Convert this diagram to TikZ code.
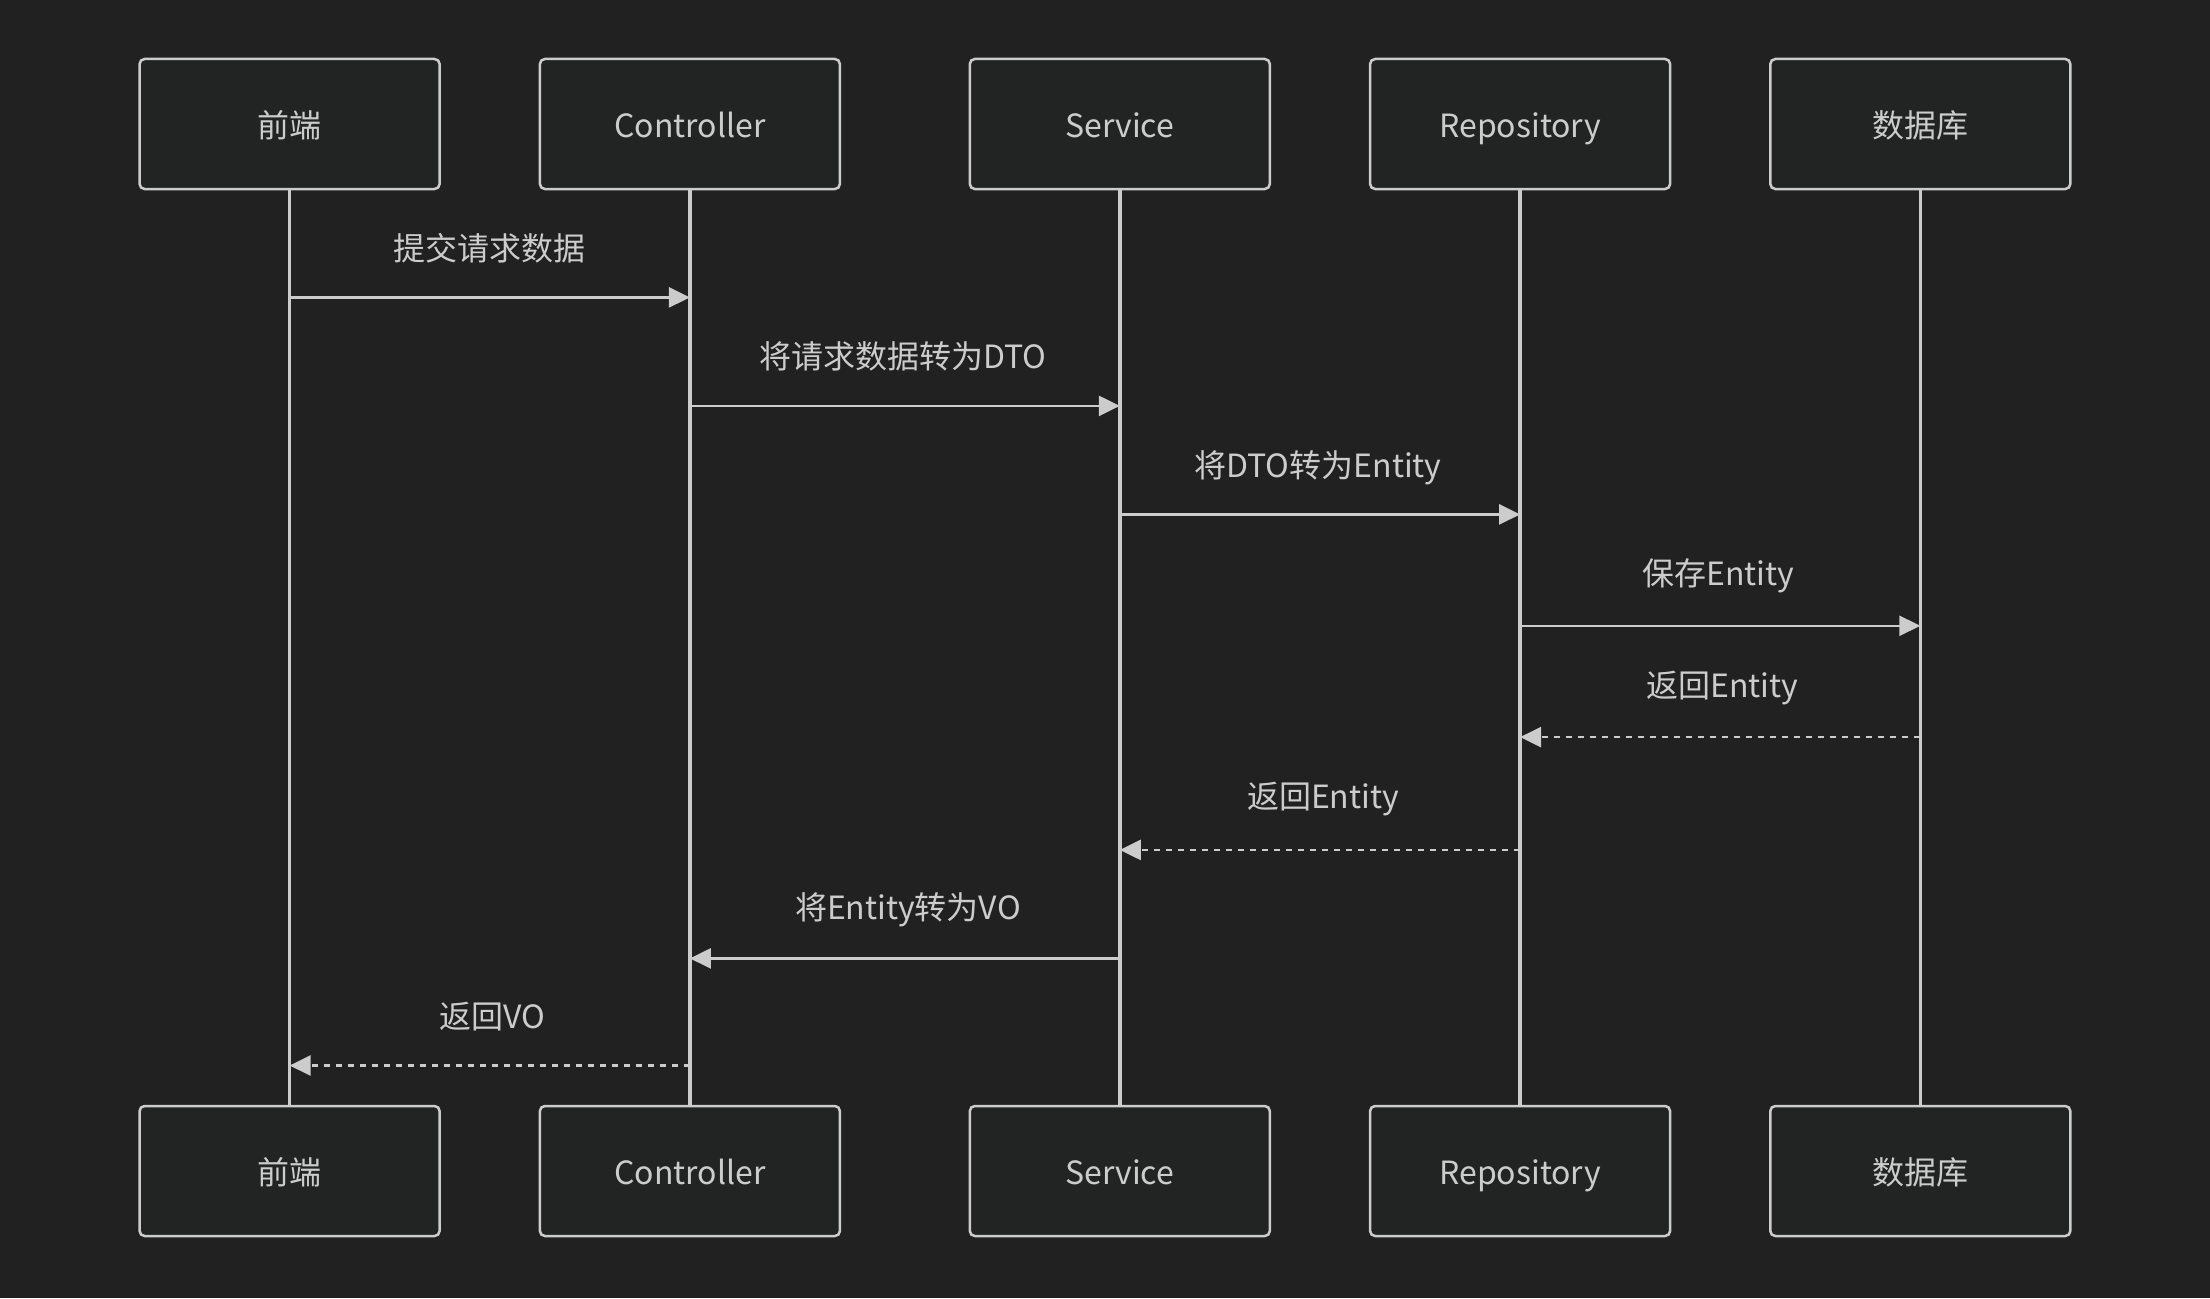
\documentclass[tikz,border=0pt]{standalone}
\usepackage{fontspec}
\setmainfont{Noto Sans CJK SC}
\usetikzlibrary{arrows.meta}
\definecolor{bg}{HTML}{212121}
\definecolor{boxfill}{HTML}{222323}
\definecolor{fg}{HTML}{CCCCCC}
\tikzset{
  actor/.style={draw=fg, line width=2.5pt, fill=boxfill, rounded corners=5pt,
    minimum width=300pt, minimum height=130pt, inner sep=0pt, text=fg,
    text height=30pt, text depth=3pt,
    font=\fontsize{32}{40}\selectfont},
  lifeline/.style={draw=fg, line width=3.5pt},
  msg/.style={draw=fg, line width=2.6pt, -{Triangle[length=21pt,width=20pt]}},
  reply/.style={msg, dash pattern=on 6pt off 6pt},
  lbl/.style={text=fg, inner sep=0pt, text height=23pt, text depth=7pt,
    font=\fontsize{32}{40}\selectfont},
}
\begin{document}
\begin{tikzpicture}[x=1pt,y=-1pt]
\fill[bg] (0,0) rectangle (2210,1298);
\useasboundingbox (0,0) rectangle (2210,1298);
% top actors
\node[actor] (t1) at (289.6,124) {前端};
\node[actor] (t2) at (689.9,124) {Controller};
\node[actor] (t3) at (1119.8,124) {Service};
\node[actor] (t4) at (1520.1,124) {Repository};
\node[actor] (t5) at (1920.3,124) {数据库};
% bottom actors
\node[actor] (b1) at (289.6,1171) {前端};
\node[actor] (b2) at (689.9,1171) {Controller};
\node[actor] (b3) at (1119.8,1171) {Service};
\node[actor] (b4) at (1520.1,1171) {Repository};
\node[actor] (b5) at (1920.3,1171) {数据库};
% lifelines
\foreach \i in {1,...,5} {
  \draw[lifeline] (t\i.south) -- (b\i.north);
}
% message levels
\coordinate (y1) at (0,297.4);
\coordinate (y2) at (0,405.9);
\coordinate (y3) at (0,514.4);
\coordinate (y4) at (0,625.8);
\coordinate (y5) at (0,737.1);
\coordinate (y6) at (0,849.9);
\coordinate (y7) at (0,958.4);
\coordinate (y8) at (0,1065.5);
% messages
\draw[msg] (t1 |- y1) -- (t2 |- y1);
\draw[msg] (t2 |- y2) -- (t3 |- y2);
\draw[msg] (t3 |- y3) -- (t4 |- y3);
\draw[msg] (t4 |- y4) -- (t5 |- y4);
\draw[reply] (t5 |- y5) -- (t4 |- y5);
\draw[reply] (t4 |- y6) -- (t3 |- y6);
\draw[msg] (t3 |- y7) -- (t2 |- y7);
\draw[reply] (t2 |- y8) -- (t1 |- y8);
% labels
\node[lbl] (l1) at (489.8,252) {提交请求数据};
\node[lbl] (l2) at (902.9,360.6) {将请求数据转为DTO};
\node[lbl] (l3) at (1318,469.1) {将DTO转为Entity};
\node[lbl] (l4) at (1718.2,577.2) {保存Entity};
\node[lbl] (l5) at (1722.2,689) {返回Entity};
\node[lbl] (l6) at (1323,800.3) {返回Entity};
\node[lbl] (l7) at (907.9,911.7) {将Entity转为VO};
\node[lbl] (l8) at (492.8,1020.2) {返回VO};
\end{tikzpicture}
\end{document}
